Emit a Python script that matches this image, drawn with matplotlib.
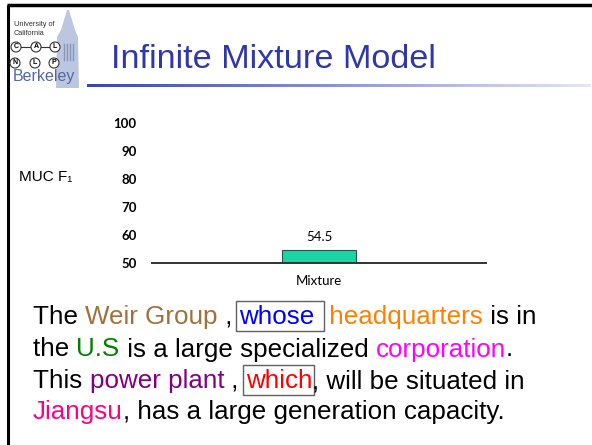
import matplotlib
matplotlib.use('Agg')
import matplotlib.pyplot as plt
import numpy as np
from matplotlib.patches import Rectangle, Circle, Polygon
from matplotlib.font_manager import FontProperties
from matplotlib.colors import LinearSegmentedColormap

# chart data
categories = ['Mixture']
scores = [54.5]
yticks = [50, 60, 70, 80, 90, 100]

title = 'Infinite Mixture Model'
ylabel = 'MUC F\u2081'

K = 'black'
# paragraph: (text, colour, boxed)
lines = [
    [('The ', K), ('Weir Group', '#a0703c'), (' , ', K), ('whose ', '#0000ff', True),
     (' headquarters', '#ff8000'), (' is in', K)],
    [('the ', K), ('U.S', '#008000'), (' is a large specialized ', K),
     ('corporation', '#ff00ff'), ('.', K)],
    [('This ', K), ('power plant', '#800080'), (' , ', K), ('which', '#ff0000', True),
     (', will be situated in', K)],
    [('Jiangsu', '#ff0080'), (', has a large generation capacity.', K)],
]

fig = plt.figure(figsize=(5.92, 4.45), dpi=100)
bg = fig.add_axes([0, 0, 1, 1])
bg.set_xlim(0, 592)
bg.set_ylim(445, 0)
bg.axis('off')

# slide border
bg.plot([8, 8], [5, 445], color='black', lw=2.2, solid_capstyle='butt')
bg.plot([7, 592], [5, 5], color='black', lw=2.5, solid_capstyle='butt')

# logo (rough)
tower = Polygon([(67, 10), (69, 10), (75, 30), (78, 37), (79, 88), (56, 88), (57, 37), (61, 30)],
                closed=True, fc='#bcc7df', ec='none', zorder=1)
bg.add_patch(tower)
for cx in [64, 67, 70, 73]:
    bg.plot([cx, cx], [44, 60], color='#8595bb', lw=1, zorder=2)
bg.text(14, 25, 'University of', fontsize=5.3, family='Liberation Sans', color='#333',
        va='center', zorder=3)
bg.text(14, 33.5, 'California', fontsize=5.3, family='Liberation Sans', color='#333',
        va='center', zorder=3)
bg.plot([16, 55], [47, 47], color='#333', lw=0.8, zorder=3)
for (cx, cy, ch) in [(16, 47, 'C'), (36, 47, 'A'), (55, 47, 'L'),
                     (15, 63, 'N'), (35, 63, 'L'), (54, 63, 'P')]:
    bg.add_patch(Circle((cx, cy), 5, fc='white', ec='#333', lw=0.8, zorder=4))
    bg.text(cx, cy, ch, fontsize=5, fontweight='bold', ha='center', va='center',
            family='Liberation Sans', zorder=5)
bg.text(13, 81, 'Berkeley', fontsize=11.5, family='Liberation Sans', color='#56679e',
        va='baseline', zorder=5)

# title and underline
bg.text(111, 68, title, fontsize=24.7, family='Liberation Sans', color='#3038a8', va='baseline')
grad = LinearSegmentedColormap.from_list('g', ['#3a44b0', '#e6e6f3'])
bg.imshow(np.linspace(0, 1, 256)[None, :], cmap=grad, aspect='auto',
          extent=(87, 591, 87.3, 84.7), zorder=1)
bg.set_xlim(0, 592)
bg.set_ylim(445, 0)

# chart
ax = fig.add_axes([152 / 592, 1 - 262.7 / 445, 334 / 592, 140 / 445])
x = np.arange(len(categories))
bars = ax.bar(x, [s - yticks[0] for s in scores], bottom=yticks[0], width=0.445,
              color='#1ad6a6', edgecolor='#1f5a48', linewidth=0.8, zorder=1)
ax.set_xlim(-1, 1)
ax.set_ylim(yticks[0], yticks[-1])
ax.set_yticks(yticks)
ax.set_yticklabels([str(t) for t in yticks], family='Lato', fontsize=9.5, fontweight='bold')
ax.set_xticks(x)
ax.set_xticklabels(categories, family='Lato', fontsize=9.5)
ax.tick_params(axis='y', length=0, pad=11)
ax.tick_params(axis='x', length=0, pad=9)
for side in ['top', 'right', 'left']:
    ax.spines[side].set_visible(False)
ax.spines['bottom'].set_color('#333333')
ax.spines['bottom'].set_linewidth(1.4)
ax.spines['bottom'].set_zorder(3)
ax.patch.set_alpha(0)
for xi, s in zip(x, scores):
    ax.annotate(f'{s}', (xi, s), xytext=(0, 5), textcoords='offset points',
                ha='center', va='bottom', family='Lato', fontsize=9.5)
bg.text(19, 177, ylabel, fontsize=11, family=['Liberation Sans', 'DejaVu Sans'],
        va='center')

# paragraph with coloured words
fp = FontProperties(family='Liberation Sans', size=18.75)
renderer = fig.canvas.get_renderer()


def text_w(s):
    w1 = renderer.get_text_width_height_descent('|' + s + '|', fp, ismath=False)[0]
    w0 = renderer.get_text_width_height_descent('||', fp, ismath=False)[0]
    return w1 - w0


baselines = [324, 356.5, 388, 418.5]
for line, yb in zip(lines, baselines):
    xp = 33
    for piece in line:
        txt, col = piece[0], piece[1]
        boxed = len(piece) > 2 and piece[2]
        bg.text(xp, yb, txt, fontproperties=fp, color=col, va='baseline', ha='left')
        w = text_w(txt)
        if boxed:
            bg.add_patch(Rectangle((xp - 3, yb - 23), w + 5, 30, fill=False,
                                   ec='#606060', lw=1))
        xp += w

fig.savefig('out.png', dpi=100)
